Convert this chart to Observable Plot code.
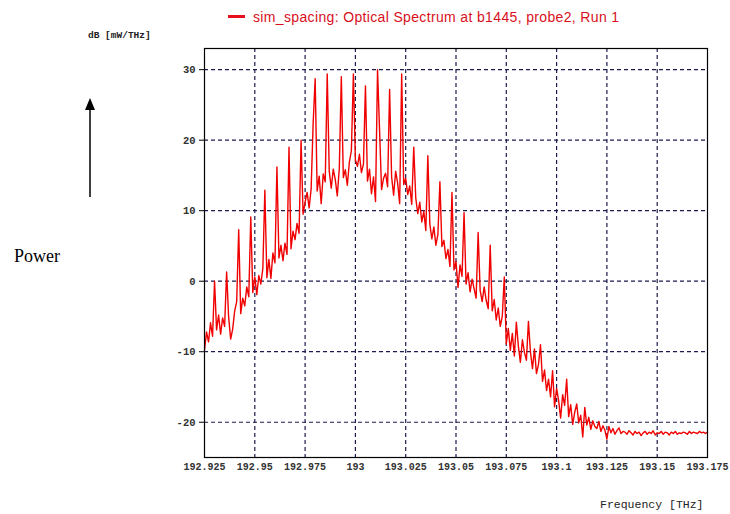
<!DOCTYPE html>
<html><head><meta charset="utf-8">
<script src="https://cdn.jsdelivr.net/npm/d3@7"></script>
<script src="https://cdn.jsdelivr.net/npm/@observablehq/plot@0.6"></script>
<style>
body{margin:0;background:#fff;}
#wrap{position:relative;width:730px;height:514px;overflow:hidden;}
#wrap svg.plot{position:absolute;left:0;top:0;}
.ov{position:absolute;white-space:nowrap;}
#title{left:228px;top:9px;font:14px "Liberation Sans",Arial,sans-serif;letter-spacing:0.35px;color:#d8101c;}
#title .sw{display:inline-block;width:17px;height:3px;background:#e8101c;vertical-align:middle;margin-right:8px;position:relative;top:-2px;}
#ylab{left:88px;top:30px;font:bold 9.5px "Liberation Mono",monospace;color:#222;}
#xlab{left:600px;top:498px;font:11.5px "Liberation Mono",monospace;color:#222;}
#power{left:14px;top:246px;font:18px "Liberation Serif","Times New Roman",serif;color:#000;}
#arrow{left:80px;top:96px;}
</style></head><body>
<div id="wrap">
  <div class="ov" id="title"><span class="sw"></span>sim_spacing: Optical Spectrum at b1445, probe2, Run 1</div>
  <div class="ov" id="ylab">dB [mW/THz]</div>
  <div class="ov" id="xlab">Frequency [THz]</div>
  <div class="ov" id="power">Power</div>
  <svg class="ov" id="arrow" width="20" height="104"><line x1="10" y1="101" x2="10" y2="12" stroke="#000" stroke-width="1.5"/><polygon points="5,14 15,14 10,2" fill="#000"/></svg>
</div>
<script>
// Frequency grid (THz) of the sampled spectrum
const freqStart = 192.925;
const freqStep = 0.001;
// Power values (dB [mW/THz]), one per frequency sample
const powerDb = [
  -9.8, -7.2, -8.6, -5.9, -7.8, 0.0, -6.9, -4.8, -7.5, -5.2,
  -6.4, 1.3, -5.1, -8.2, -6.8, -4.2, -2.9, 7.3, -4.6, -2.4,
  -3.5, -0.8, -2.2, 9.1, -1.6, 0.6, -1.9, 0.8, -0.4, 1.8,
  12.9, 0.5, 3.1, 0.4, 4.0, 2.6, 16.2, 3.3, 5.1, 2.9,
  5.4, 3.8, 19.0, 4.6, 7.1, 5.9, 8.2, 6.8, 20.0, 9.5,
  11.2, 12.6, 10.4, 13.1, 22.4, 28.7, 12.8, 14.9, 11.0, 15.2,
  14.1, 29.4, 15.6, 13.2, 15.9, 14.4, 12.1, 16.0, 29.0, 14.7,
  15.8, 13.6, 16.9, 18.5, 29.4, 17.2, 16.3, 18.0, 15.4, 16.6,
  27.7, 14.2, 15.9, 12.4, 14.8, 11.3, 30.0, 21.5, 13.0, 14.6,
  15.3, 13.4, 27.2, 14.8, 12.2, 15.6, 13.9, 11.0, 29.4, 13.7,
  14.6, 12.3, 13.5, 10.9, 19.0, 11.8, 9.6, 11.2, 8.4, 9.9,
  7.2, 17.8, 8.1, 6.0, 7.7, 5.1, 6.6, 14.1, 4.9, 5.8,
  3.2, 4.5, 2.1, 12.6, 1.6, 2.8, -0.9, 2.3, 0.7, 9.7,
  -0.4, 1.2, -1.5, 0.3, -1.1, -2.4, 6.9, -1.3, -2.9, -0.8,
  -2.7, -3.9, 5.1, -4.2, -2.6, -5.5, -3.8, -6.4, -5.0, 0.6,
  -8.9, -6.7, -9.8, -7.4, -10.6, -5.8, -9.2, -11.5, -8.3, -10.1,
  -11.2, -5.7, -10.0, -12.4, -9.6, -13.1, -11.8, -9.0, -14.2, -12.6,
  -15.5, -13.9, -16.4, -12.7, -17.8, -15.2, -16.9, -19.4, -16.1, -17.6,
  -13.9, -19.2, -17.5, -20.3, -18.6, -17.4, -20.1, -19.0, -22.1, -17.9,
  -20.4, -19.3, -21.0, -19.8, -20.6, -20.9, -19.9, -21.3, -20.5, -21.1,
  -22.4, -20.6, -21.5, -20.9, -21.7, -21.2, -20.8, -21.6, -21.3, -21.4,
  -21.7, -21.2, -21.5, -21.8, -21.3, -21.6, -21.4, -21.9, -21.5, -21.3,
  -21.7, -21.4, -21.6, -21.2, -21.8, -21.5, -21.6, -21.3, -21.7, -21.4,
  -21.5, -21.8, -21.4, -21.6, -21.3, -21.7, -21.5, -21.6, -21.4, -21.5,
  -21.7, -21.3, -21.6, -21.4, -21.5, -21.6, -21.3, -21.5, -21.4, -21.6,
  -21.4
];
const xTicks = [192.925, 192.95, 192.975, 193, 193.025, 193.05, 193.075, 193.1, 193.125, 193.15, 193.175];
const xTickLabels = ["192.925", "192.95", "192.975", "193", "193.025", "193.05", "193.075", "193.1", "193.125", "193.15", "193.175"];
const yTicks = [-20, -10, 0, 10, 20, 30];
const yTickLabels = ["-20", "-10", "0", "10", "20", "30"];

const data = powerDb.map((v, i) => ({f: freqStart + i * freqStep, db: v}));

const gridColor = "#1c1c50";
const chart = Plot.plot({
  width: 730,
  height: 514,
  marginLeft: 204,
  marginRight: 23,
  marginTop: 48,
  marginBottom: 57,
  style: {background: "transparent", overflow: "visible"},
  x: {domain: [192.925, 193.175]},
  y: {domain: [-25, 33]},
  marks: [
    Plot.ruleX(xTicks.slice(1, -1), {stroke: gridColor, strokeWidth: 1.2, strokeDasharray: "4,3"}),
    Plot.ruleY(yTicks, {stroke: gridColor, strokeWidth: 1.2, strokeDasharray: "4,3"}),
    Plot.line(data, {x: "f", y: "db", stroke: "#f00000", strokeWidth: 1.4}),
    Plot.frame({stroke: "#000", strokeWidth: 1.2}),
    Plot.axisY(yTicks, {
      tickSize: 5, tickPadding: 4, label: null,
      tickFormat: d => yTickLabels[yTicks.indexOf(d)],
      fontFamily: "Liberation Mono, monospace", fontSize: 10.5, fontWeight: "bold", fill: "#333"
    }),
    Plot.axisX(xTicks, {
      tickSize: 0, tickPadding: 5, label: null,
      tickFormat: d => xTickLabels[xTicks.indexOf(d)],
      fontFamily: "Liberation Mono, monospace", fontSize: 10, fontWeight: "bold", fill: "#333"
    })
  ]
});
chart.classList.add("plot");
document.getElementById("wrap").prepend(chart);
</script>
</body></html>
